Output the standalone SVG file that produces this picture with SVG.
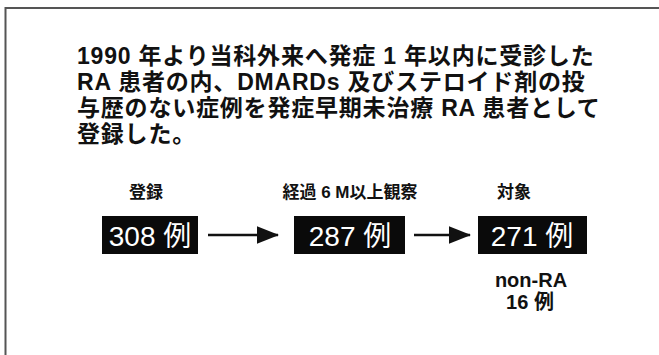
<svg xmlns="http://www.w3.org/2000/svg" width="659" height="355" viewBox="0 0 659 355">
<defs>
<style>
.main{font-family:"Liberation Sans","Noto Sans CJK JP",sans-serif;font-size:23px;font-weight:700;fill:#111;letter-spacing:0.8px}
.lab{font-family:"Liberation Sans","Noto Sans CJK JP",sans-serif;font-size:17px;font-weight:700;fill:#111;text-anchor:middle}
.box{fill:#0a0a0a}
.bt{font-family:"Liberation Sans","Noto Sans CJK JP",sans-serif;font-size:28px;font-weight:400;fill:#fff;text-anchor:middle}
.note{font-family:"Liberation Sans","Noto Sans CJK JP",sans-serif;font-size:20px;font-weight:700;fill:#111;text-anchor:middle}
.con{stroke:#111;stroke-width:2.5;fill:none}
</style>
<marker id="ah" markerWidth="9" markerHeight="7" refX="8.5" refY="3.5" orient="auto" markerUnits="strokeWidth">
<path d="M0,0 L9,3.5 L0,7 Z" fill="#111"/>
</marker>
</defs>
<rect width="659" height="355" fill="#fff"/>
<path d="M5.5,355 V8 H659" fill="none" stroke="#555" stroke-width="2"/>
<g id="description">
<text class="main" x="77" y="64">1990 年より当科外来へ発症 1 年以内に受診した</text>
<text class="main" x="77" y="90">RA 患者の内、DMARDs 及びステロイド剤の投</text>
<text class="main" x="77" y="116">与歴のない症例を発症早期未治療 RA 患者として</text>
<text class="main" x="77" y="142">登録した。</text>
</g>
<g id="node-registered">
<text class="lab" x="146" y="198">登録</text>
<rect class="box" x="102" y="216" width="96" height="38"/>
<text class="bt" x="150" y="246">308 例</text>
</g>
<g id="node-observed">
<text class="lab" x="350" y="198">経過 6 M以上観察</text>
<rect class="box" x="294" y="216" width="111" height="38"/>
<text class="bt" x="350" y="246">287 例</text>
</g>
<g id="node-target">
<text class="lab" x="514" y="198">対象</text>
<rect class="box" x="478" y="216" width="109" height="38"/>
<text class="bt" x="532" y="246">271 例</text>
<text class="note" x="531" y="287">non-RA</text>
<text class="note" x="530" y="309">16 例</text>
</g>
<g id="connectors">
<line class="con" x1="208" y1="235" x2="278" y2="235" marker-end="url(#ah)"/>
<line class="con" x1="414" y1="235" x2="470" y2="235" marker-end="url(#ah)"/>
</g>
</svg>
